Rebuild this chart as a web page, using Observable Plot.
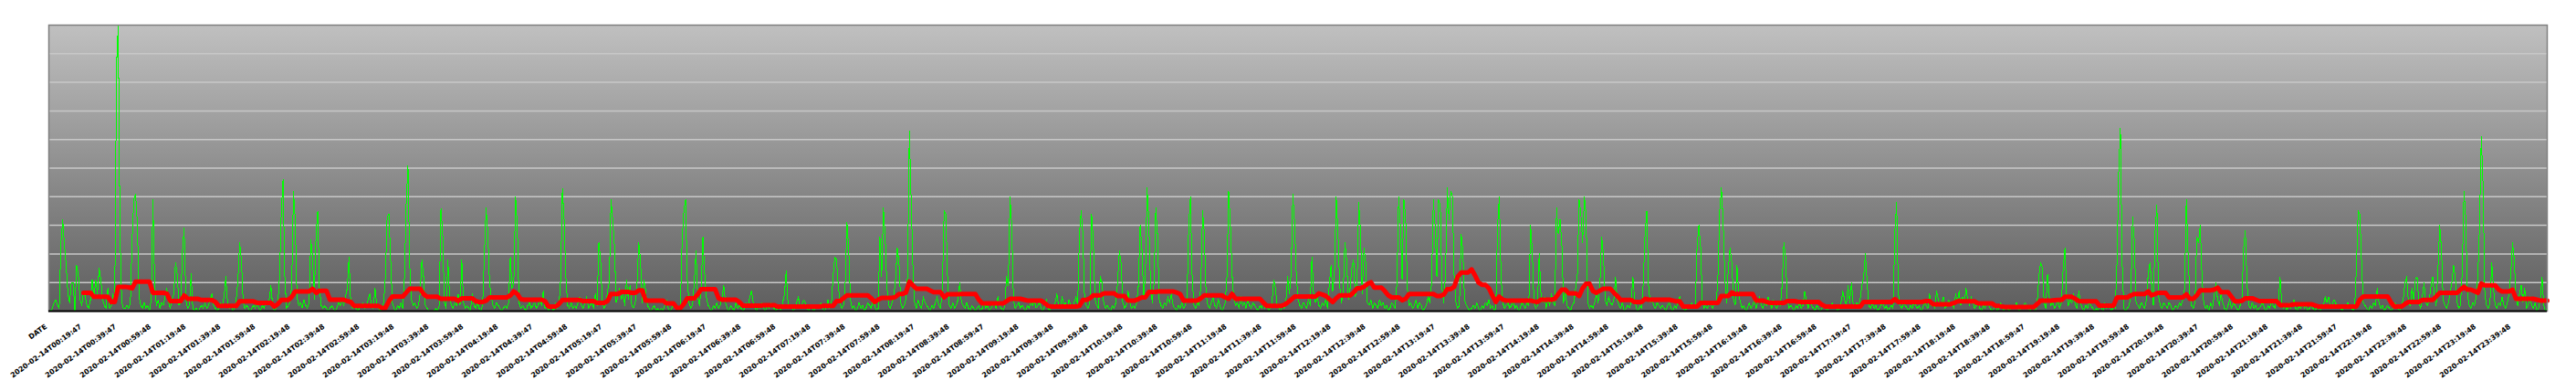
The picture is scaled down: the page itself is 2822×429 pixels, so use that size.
<!DOCTYPE html>
<html><head><meta charset="utf-8">
<script src="https://cdn.jsdelivr.net/npm/d3@7"></script>
<script src="https://cdn.jsdelivr.net/npm/@observablehq/plot@0.6"></script>
<style>html,body{margin:0;padding:0;background:#fff;} svg text{-webkit-font-smoothing:none;text-rendering:optimizeSpeed;}</style>
</head><body><div id="chart"></div>
<script>
// Category tick labels, one every 20 samples (index 0 = "DATE")
const tickLabels = ["DATE",
"2020-02-14T00:19:47","2020-02-14T00:39:47","2020-02-14T00:59:48","2020-02-14T01:19:48","2020-02-14T01:39:48","2020-02-14T01:59:48",
"2020-02-14T02:19:48","2020-02-14T02:39:48","2020-02-14T02:59:48","2020-02-14T03:19:48","2020-02-14T03:39:48","2020-02-14T03:59:48",
"2020-02-14T04:19:48","2020-02-14T04:39:47","2020-02-14T04:59:48","2020-02-14T05:19:47","2020-02-14T05:39:47","2020-02-14T05:59:48",
"2020-02-14T06:19:47","2020-02-14T06:39:48","2020-02-14T06:59:48","2020-02-14T07:19:48","2020-02-14T07:39:48","2020-02-14T07:59:48",
"2020-02-14T08:19:47","2020-02-14T08:39:48","2020-02-14T08:59:47","2020-02-14T09:19:48","2020-02-14T09:39:48","2020-02-14T09:59:48",
"2020-02-14T10:19:48","2020-02-14T10:39:48","2020-02-14T10:59:48","2020-02-14T11:19:48","2020-02-14T11:39:48","2020-02-14T11:59:48",
"2020-02-14T12:19:48","2020-02-14T12:39:48","2020-02-14T12:59:48","2020-02-14T13:19:47","2020-02-14T13:39:48","2020-02-14T13:59:47",
"2020-02-14T14:19:48","2020-02-14T14:39:48","2020-02-14T14:59:48","2020-02-14T15:19:48","2020-02-14T15:39:48","2020-02-14T15:59:48",
"2020-02-14T16:19:48","2020-02-14T16:39:48","2020-02-14T16:59:48","2020-02-14T17:19:47","2020-02-14T17:39:48","2020-02-14T17:59:48",
"2020-02-14T18:19:48","2020-02-14T18:39:48","2020-02-14T18:59:47","2020-02-14T19:19:48","2020-02-14T19:39:48","2020-02-14T19:59:48",
"2020-02-14T20:19:48","2020-02-14T20:39:47","2020-02-14T20:59:48","2020-02-14T21:19:48","2020-02-14T21:39:48","2020-02-14T21:59:47",
"2020-02-14T22:19:48","2020-02-14T22:39:48","2020-02-14T22:59:48","2020-02-14T23:19:48","2020-02-14T23:39:48"];

// Green series: one value per minute, samples 1..1440 (rows of 20 = one tick interval)
const green = [
0,1,3,4,2,1,24,32,23,16,6,3,10,10,0,16,13,4,2,7,
5,2,1,4,11,5,11,6,15,11,4,2,1,8,1,2,6,3,86,100,
28,3,1,1,2,1,3,25,39,41,31,5,2,1,3,1,2,0,4,39,
10,2,4,1,3,2,5,8,3,1,4,6,17,13,2,3,21,29,4,1,
2,13,1,0,1,0,1,2,1,3,1,2,4,6,2,1,0,1,3,2,
5,12,3,1,2,0,1,4,11,24,18,3,1,2,1,0,1,2,1,3,
1,0,2,1,3,2,4,9,2,0,1,3,12,35,46,12,1,2,3,9,
42,32,5,2,3,1,4,2,1,3,25,19,4,27,35,8,2,1,2,1,
0,1,2,1,0,1,3,2,4,2,5,8,19,3,1,2,1,0,1,2,
3,1,2,4,6,2,1,8,2,1,0,1,3,12,33,34,18,3,1,0,
2,1,3,1,12,38,51,16,4,2,3,1,2,6,18,12,2,1,0,0,
0,0,1,0,2,36,27,3,1,18,5,2,1,3,2,6,2,18,3,1,
2,1,0,6,2,1,3,1,0,2,19,36,28,10,5,2,1,3,2,1,
0,1,2,1,3,19,8,10,40,30,3,1,2,1,0,2,3,1,2,3,
1,2,4,2,7,1,2,0,2,1,0,3,1,2,11,43,32,12,2,1,
3,1,2,1,3,5,2,1,3,5,1,2,3,1,6,2,24,18,3,1,
2,7,10,39,32,23,3,5,8,4,6,2,11,4,9,2,1,3,9,24,
18,3,11,7,2,1,0,1,2,0,1,0,1,0,2,4,1,0,1,2,
1,2,0,1,25,35,39,11,3,1,2,10,21,5,2,8,26,13,5,2,
1,0,2,1,3,1,2,5,9,3,1,0,2,1,0,3,1,2,1,0,
1,3,2,5,7,3,1,0,2,1,3,1,0,2,1,3,2,1,0,1,
2,0,3,6,14,3,1,2,0,1,3,5,1,2,4,3,1,0,2,1,
0,1,2,1,3,1,0,1,4,1,2,12,19,18,9,3,1,2,9,31,
22,4,1,2,0,1,3,1,2,0,1,3,2,1,4,2,0,1,26,12,
36,27,9,2,1,3,5,11,22,17,3,1,2,4,13,63,39,16,3,1,
4,2,1,5,3,2,1,0,2,1,3,5,2,1,8,35,34,12,2,1,
3,1,2,4,10,3,2,1,3,1,0,2,1,0,1,2,0,1,3,1,
2,0,1,2,3,1,5,2,1,0,2,12,9,40,30,4,1,2,3,1,
2,1,0,2,1,3,2,4,1,2,3,1,0,2,4,1,0,2,1,3,
6,2,1,5,2,3,1,4,2,1,3,5,2,27,35,27,4,2,1,3,
34,25,4,2,1,12,10,3,1,2,1,0,2,1,3,10,21,17,3,1,
2,7,3,1,2,1,3,9,30,22,5,12,43,32,9,3,10,36,27,4,
2,1,3,2,5,3,6,2,1,0,2,1,3,1,2,4,30,40,12,2,
1,3,2,9,35,27,6,2,1,3,5,2,1,4,2,0,1,3,12,42,
31,13,4,2,3,1,5,2,3,1,4,2,1,3,2,1,0,2,1,3,
1,2,0,1,3,11,8,2,1,0,2,1,3,12,6,13,41,31,13,4,
2,1,3,2,1,4,2,19,6,3,5,2,1,3,2,4,1,9,16,7,
13,40,28,9,3,6,24,18,4,8,15,18,5,9,38,28,6,22,17,3,
2,4,1,3,2,1,4,2,3,1,2,0,1,3,2,1,10,40,30,11,
39,33,8,2,3,1,2,4,1,3,2,0,1,2,5,3,10,39,30,12,
39,37,8,3,13,43,32,42,40,12,3,1,2,27,21,4,2,1,0,1,
2,1,3,1,0,2,1,3,2,4,1,2,0,1,30,40,12,3,1,2,
3,1,2,4,1,2,0,1,3,2,1,3,2,30,21,3,1,2,20,6,
3,5,1,4,2,6,3,2,36,27,32,24,3,7,2,1,0,2,3,8,
13,39,34,24,40,34,3,1,2,1,3,6,3,9,26,20,4,2,5,3,
2,4,12,4,2,1,3,0,1,2,1,3,12,4,1,0,2,1,10,27,
35,9,3,4,2,1,3,2,1,2,1,0,2,3,1,0,2,1,3,5,
2,1,0,1,2,1,3,1,2,23,30,23,4,1,2,1,3,2,1,3,
2,12,35,43,32,12,3,15,22,17,4,2,16,6,3,1,2,0,1,3,
1,2,4,1,3,5,2,1,3,2,5,3,1,4,2,1,3,2,9,24,
19,4,1,2,1,0,2,1,3,1,2,7,4,1,3,2,1,0,2,1,
0,1,2,1,0,2,1,3,1,2,0,1,3,7,4,2,9,3,10,2,
1,3,2,4,9,12,20,10,2,1,3,1,2,0,1,2,3,1,2,0,
1,2,1,28,38,6,2,1,3,2,1,0,2,1,3,2,1,2,0,1,
3,2,1,6,2,3,1,7,4,2,3,5,1,2,4,2,3,1,6,3,
7,2,5,3,8,4,2,5,3,1,2,3,1,0,2,1,3,2,1,0,
1,2,0,1,3,1,0,2,1,0,1,2,1,3,1,0,2,1,3,2,
1,0,2,1,0,3,12,17,15,3,1,13,5,2,3,1,2,4,1,3,
15,22,6,2,4,3,6,2,1,7,3,1,0,2,1,3,2,1,0,1,
0,2,1,0,3,1,2,1,0,2,1,17,49,64,17,1,0,1,2,5,
33,25,3,2,1,3,2,1,4,13,17,9,2,28,37,5,2,1,3,2,
1,3,2,0,1,2,1,3,2,4,8,39,20,5,2,1,3,26,24,30,
12,3,1,2,0,3,1,5,10,4,2,6,3,1,0,2,4,1,3,2,
1,0,2,4,22,28,9,2,1,3,1,2,0,1,2,3,1,0,2,1,
3,2,1,4,2,12,3,1,2,0,3,1,2,4,1,0,2,1,3,1,
2,0,1,2,1,0,1,2,0,1,2,5,3,5,1,2,4,3,1,2,
1,0,2,1,3,1,2,0,1,15,35,34,17,3,2,1,0,2,1,3,
2,8,3,1,2,0,1,2,1,0,1,3,2,1,0,2,4,10,12,3,
2,8,4,11,12,3,1,5,10,3,2,4,9,12,5,2,14,30,22,4,
2,1,3,6,10,16,12,3,1,2,14,42,33,6,2,1,3,2,5,12,
30,61,44,6,2,1,3,17,8,2,1,3,2,5,2,1,3,6,13,24,
18,4,2,6,9,3,8,1,2,5,2,1,3,0,1,4,12,2,0,1];

// Red series: one value every 2 samples, from sample 20 to 1440
const red = [
6.4,6.4,6.4,5,5,5,5,5,3.2,3.2,
8.5,8.5,8.5,8.3,8,10.3,10.3,10.3,10.3,10.3,
6.4,6.4,6.4,6.4,6.2,3.5,3.5,3.5,3.5,5.5,
4.3,4.3,4.3,4.3,3.9,3.9,3.9,3.9,3.2,1.8,
1.8,1.8,1.8,1.8,1.8,3.4,3.4,3.4,3.4,3.4,
2.9,2.9,2.9,2.9,2.9,1.6,2.5,3.9,3.9,3.9,
5,6.9,6.9,6.9,6.9,6.9,7.8,6.4,7.1,7.1,
7.1,4,4,4,4,4,3.5,3.2,1.8,1.8,
1.8,1.8,1.8,1.8,1.8,1.8,1.1,1.1,3.5,5.1,
5.1,5.1,5.1,6.5,7.8,7.8,7.8,7.8,6,5,
5,5,5,4.3,4.3,4.3,4.3,4.3,3.6,4.5,
4.5,4.5,4.5,3.5,3.2,3.2,3.6,4.8,4.8,4.8,
4.8,4.8,4.8,5.5,6.9,6,4.2,4,4,4,
4,4,4,3.5,1.6,1.6,1.6,2.5,3.9,3.9,
3.9,3.9,3.9,3.9,3.5,3.5,3.5,3.5,2.9,2.9,
2.9,3.5,6,6,6,6.7,6.7,6.7,6.4,6.4,
7.3,7.3,3.7,3.7,3.7,3.7,3.7,3.7,2.7,2.7,
2.7,1.1,1.1,2.5,4.5,4.5,4.5,5.9,7.7,7.7,
7.7,7.7,7.7,4.5,4,4,4,4,4,3.2,
1.9,1.9,1.9,1.9,1.9,1.9,2.1,2.1,2.1,2.1,
1.6,1.6,1.6,1.6,1.6,1.6,1.6,1.6,1.6,1.6,
1.6,1.6,1.6,1.8,1.8,1.8,1.8,3.5,3.5,4.5,
5.5,5.5,5.5,5.5,5.5,5.5,5.5,4.5,3.2,4,
4.6,4.6,4.6,4.6,5,6,6,6.5,10.3,9,
7.8,7.8,7.8,7.8,7.2,6.6,6.6,6.6,4.8,5.9,
5.9,5.9,5.9,6,6,6,6,6,4,2.7,
2.7,2.7,2.7,2.7,2.7,2.7,3.5,4.3,4.3,4.3,
4.3,4,3.7,3.7,3.7,3.7,3.7,2.8,1.8,1.6,
1.6,1.6,1.6,1.6,1.6,1.6,1.6,1.8,3.9,3.9,
4.5,5.5,5.5,5.5,6.2,6.2,6.2,6.2,5.3,5.3,
5.3,3.7,3.7,3.7,4.2,4.8,4.8,6.7,6.7,6.7,
6.9,6.9,6.9,6.9,6.9,6.5,6,3.7,3.7,3.7,
3.7,3.7,4.5,5.5,5.5,5.5,5.5,5.5,5.5,4.8,
4.3,6,4.3,4.3,4.3,4.3,4.3,4.3,4.3,4.3,
3,1.8,1.8,1.8,1.8,1.8,2.2,3,4,5.1,
5.1,5.1,5.1,5.1,5.1,5.1,6.2,5.8,5.3,4.2,
3.2,4.5,5.5,5.5,5.5,5.5,6.5,8,8,8.5,
9.5,10.1,8.2,8.2,8.2,7,5.5,4.8,4.8,4.8,
3.8,4.3,6,6,6,6,6,6,6,6,
5.3,5.3,5.8,7.7,7.7,8.5,12,13.5,13.5,13.5,
14.6,12.5,10,9.2,9.2,8,5.5,3.2,5.1,4,
3.7,3.7,3.7,3.7,3.7,3.7,3.7,3.7,3.4,3.2,
4,4,4,4,4.3,6,7.5,7.5,6.2,6.2,
6.2,5.3,8,9.6,9.6,7,6.4,7.2,7.8,7.8,
7.8,6.5,5.3,3.9,3.9,3.9,3.9,3.2,3.2,3.2,
4.3,4,4,4,4,4,4,4,3.7,3.4,
3.4,1.6,1.6,1.6,1.6,1.6,2.9,2.9,2.9,2.9,
2.9,2.9,5.3,5.3,5.3,6.5,6,6,6,6,
6,6,3.7,3.7,3.7,3.2,2.9,2.9,2.9,2.9,
2.9,3.5,3.5,3.5,3.3,3.2,3.2,3.2,3.2,3.2,
3.2,2.2,1.6,1.6,1.6,1.6,1.6,1.6,1.6,1.6,
1.6,1.6,1.6,3.2,3.2,3.2,3.2,3.2,3.2,3.2,
3.2,3.2,4.2,3.2,3.2,3.2,3.2,3.2,3.2,3.2,
3.3,3.5,3.5,2.4,2.4,2.4,2.4,2.4,2.4,2.8,
3.4,3.4,3.4,3.4,3.4,3.4,2.7,2.7,2.7,2.7,
2.7,1.8,1.8,1.6,1.4,1.4,1.4,1.4,1.4,1.4,
1.4,1.4,1.4,2.5,3.7,3.7,3.7,3.7,3.8,3.9,
3.9,5,5,5,4.3,3.5,3.4,3.4,3.4,3.4,
3.4,1.9,1.9,1.9,1.9,1.9,4.8,4.8,4.8,4.8,
5.5,6,6,6,6,6.9,5.5,6,6.4,6.4,
6.4,4.8,4.8,4.8,4.8,4.8,5.9,4.3,4.3,5.5,
7.3,7.3,7.3,7.3,7.5,8.2,6.6,6.6,6.6,5,
3.4,3.4,3.6,4.5,4.5,4.5,4,3.5,3.5,3.5,
3.5,3.5,3.5,2.1,2.1,2.1,2.1,2.4,2.4,2.4,
2.4,2.4,2.4,2,1.6,1.6,1.6,1.6,1.6,1.6,
1.6,1.6,1.6,1.6,1.6,1.6,4,5.1,5.1,5.1,
5.1,5.1,5.1,5.1,5.1,3,1.6,1.6,1.6,2.5,
3.2,3.2,3.2,3.2,3.9,3.9,3.9,3.9,5.1,6.4,
6.4,6.4,6.4,6.4,6.4,7.5,8.5,7.5,7.5,7,
6.4,9.6,9,9,9,9,7.5,6.9,6.9,6.9,
7.5,4.3,4.3,4.3,4.3,4.3,4.3,4,3.7,3.7,
3.7];

const gridValues = [10,20,30,40,50,60,70,80,90];

const greenData = green.map((v, i) => ({x: i + 1, y: v}));
const redData = red.map((v, i) => ({x: 20 + 2 * i, y: v}));
const tickPositions = tickLabels.map((t, i) => i * 20);

// gradient background of the plotting area
function background(index, scales, values, dims, context) {
  const ns = "http://www.w3.org/2000/svg";
  const doc = context.document;
  const g = doc.createElementNS(ns, "g");
  const defs = doc.createElementNS(ns, "defs");
  const lg = doc.createElementNS(ns, "linearGradient");
  lg.setAttribute("id", "bgGrad");
  lg.setAttribute("x1", "0"); lg.setAttribute("y1", "0");
  lg.setAttribute("x2", "0"); lg.setAttribute("y2", "1");
  [["0%", "#c0c0c0"], ["100%", "#5e5e5e"]].forEach(([o, c]) => {
    const s = doc.createElementNS(ns, "stop");
    s.setAttribute("offset", o); s.setAttribute("stop-color", c);
    lg.appendChild(s);
  });
  defs.appendChild(lg);
  g.appendChild(defs);
  const r = doc.createElementNS(ns, "rect");
  r.setAttribute("x", dims.marginLeft);
  r.setAttribute("y", dims.marginTop);
  r.setAttribute("width", dims.width - dims.marginLeft - dims.marginRight);
  r.setAttribute("height", dims.height - dims.marginTop - dims.marginBottom);
  r.setAttribute("fill", "url(#bgGrad)");
  g.appendChild(r);
  return g;
}

const chart = Plot.plot({
  width: 2822,
  height: 429,
  marginTop: 27,
  marginLeft: 53,
  marginRight: 32,
  marginBottom: 89,
  style: {fontFamily: "'DejaVu Sans', sans-serif", fontWeight: "bold", fontSize: "7.8px", background: "#fff", color: "#000"},
  x: {domain: [0, 1440], axis: null},
  y: {domain: [0, 100], axis: null},
  marks: [
    background,
    Plot.ruleY(gridValues, {stroke: "#c8c8c8", strokeWidth: 1.5}),
    Plot.line(greenData, {x: "x", y: "y", stroke: "#00ff00", strokeWidth: 1, shapeRendering: "crispEdges"}),
    Plot.line(redData, {x: "x", y: "y", stroke: "#ff0000", strokeWidth: 5, strokeLinejoin: "round"}),
    Plot.frame({stroke: "#808080", strokeWidth: 1.5}),
    Plot.ruleY([0], {stroke: "#000", strokeWidth: 2}),
    Plot.axisX({
      ticks: tickPositions,
      tickFormat: (d) => tickLabels[Math.round(d / 20)],
      tickRotate: -36,
      tickSize: 0,
      tickPadding: 16,
      dx: -3,
      label: null,
      fill: "#000"
    })
  ]
});
document.getElementById("chart").appendChild(chart);
</script>
</body></html>
